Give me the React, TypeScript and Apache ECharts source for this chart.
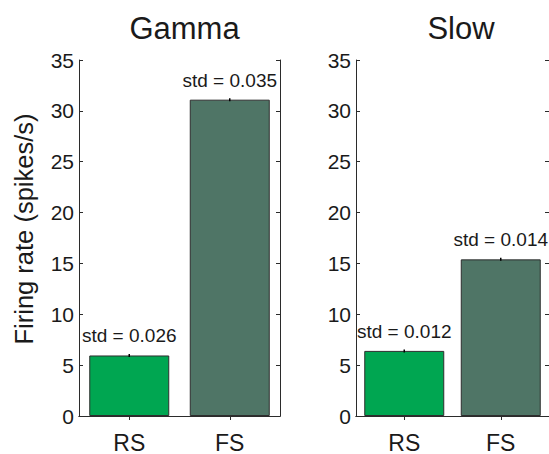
import React, { useEffect, useRef } from "react";
import * as echarts from "echarts";

// Firing rates of regular-spiking (RS) and fast-spiking (FS) cells in two regimes
const categories = ["RS", "FS"];
const panelTitles = ["Gamma", "Slow"];
const gammaRates = [5.95, 31.1];
const slowRates = [6.4, 15.4];
const gammaStd = [0.026, 0.035];
const slowStd = [0.012, 0.014];
const yMax = 35;
const yStep = 5;
const barColors = ["#00a651", "#4f7566"];

const FONT = "'Liberation Sans', Arial, Helvetica, sans-serif";
const INK = "#1a1a1a";
const AXIS = "#2b2b2b";

const grids = [
  { left: 79, top: 60, width: 201, height: 357 },
  { left: 356, top: 60, width: 200, height: 357 },
];

function buildOption() {
  const rates = [gammaRates, slowRates];
  const stds = [gammaStd, slowStd];

  const xAxis: any[] = [];
  const yAxis: any[] = [];
  const series: any[] = [];

  grids.forEach((_, g) => {
    // bottom category axis with labels
    xAxis.push({
      type: "category",
      gridIndex: g,
      data: categories,
      position: "bottom",
      axisLine: { show: true, lineStyle: { color: AXIS, width: 1 } },
      axisTick: { show: false },
      axisLabel: { fontFamily: FONT, fontSize: 23, color: INK, margin: 15 },
      splitLine: { show: false },
    });
    // top mirror axis for the box, with inward ticks
    xAxis.push({
      type: "category",
      gridIndex: g,
      data: categories,
      position: "top",
      axisLine: { show: true, lineStyle: { color: AXIS, width: 1 } },
      axisTick: { show: true, inside: true, alignWithLabel: true, length: 4, lineStyle: { color: AXIS } },
      axisLabel: { show: false },
      splitLine: { show: false },
    });
    yAxis.push({
      type: "value",
      gridIndex: g,
      min: 0,
      max: yMax,
      interval: yStep,
      position: "left",
      name: g === 0 ? "Firing rate (spikes/s)" : "",
      nameLocation: "middle",
      nameRotate: 90,
      nameGap: 42,
      nameTextStyle: { fontFamily: FONT, fontSize: 25.5, color: INK, padding: [0, 0, 0, 18] },
      axisLine: { show: true, lineStyle: { color: AXIS, width: 1 } },
      axisTick: { show: true, inside: true, length: 4, lineStyle: { color: AXIS } },
      axisLabel: { fontFamily: FONT, fontSize: 21, color: INK, margin: 5 },
      splitLine: { show: false },
    });
    yAxis.push({
      type: "value",
      gridIndex: g,
      min: 0,
      max: yMax,
      interval: yStep,
      position: "right",
      axisLine: { show: true, lineStyle: { color: AXIS, width: 1 } },
      axisTick: { show: true, inside: true, length: 4, lineStyle: { color: AXIS } },
      axisLabel: { show: false },
      splitLine: { show: false },
    });

    const r = rates[g];
    const s = stds[g];

    series.push({
      type: "bar",
      xAxisIndex: g * 2,
      yAxisIndex: g * 2,
      barWidth: 80,
      data: r.map((v, i) => ({
        value: v,
        itemStyle: { color: barColors[i], borderColor: "#2e2e2e", borderWidth: 1 },
      })),
      label: {
        show: true,
        position: "top",
        distance: 10,
        fontFamily: FONT,
        fontSize: 19,
        color: INK,
        formatter: (p: any) => `std = ${s[p.dataIndex].toFixed(3)}`,
      },
      z: 2,
    });

    // error bars (std), drawn at a minimum visible height
    series.push({
      type: "custom",
      xAxisIndex: g * 2,
      yAxisIndex: g * 2,
      data: r.map((v, i) => [i, v, s[i]]),
      renderItem: (_p: any, api: any) => {
        const x = api.value(0);
        const y = api.value(1);
        const e = api.value(2);
        const hi = api.coord([x, y + e]);
        const lo = api.coord([x, y - e]);
        const mid = (hi[1] + lo[1]) / 2;
        const half = Math.max((lo[1] - hi[1]) / 2, 1.5);
        return {
          type: "line",
          shape: { x1: hi[0], y1: mid - half, x2: hi[0], y2: mid + half },
          style: { stroke: "#000", lineWidth: 1.5 },
        };
      },
      z: 5,
    });
  });

  return {
    animation: false,
    backgroundColor: "#fff",
    title: panelTitles.map((t, g) => ({
      text: t,
      left: grids[g].left + grids[g].width / 2,
      top: 8,
      textAlign: "center",
      textStyle: { fontFamily: FONT, fontSize: 31, fontWeight: "normal", color: INK },
    })),
    grid: grids.map((gr) => ({ ...gr, containLabel: false })),
    xAxis,
    yAxis,
    series,
  };
}

export default function App() {
  const ref = useRef<HTMLDivElement>(null);
  useEffect(() => {
    if (!ref.current) return;
    const chart = echarts.init(ref.current, undefined, { renderer: "svg" });
    chart.setOption(buildOption() as any);
    return () => chart.dispose();
  }, []);
  return (
    <div
      ref={ref}
      style={{ position: "fixed", left: 0, top: 0, width: 549, height: 454, background: "#fff" }}
    />
  );
}
